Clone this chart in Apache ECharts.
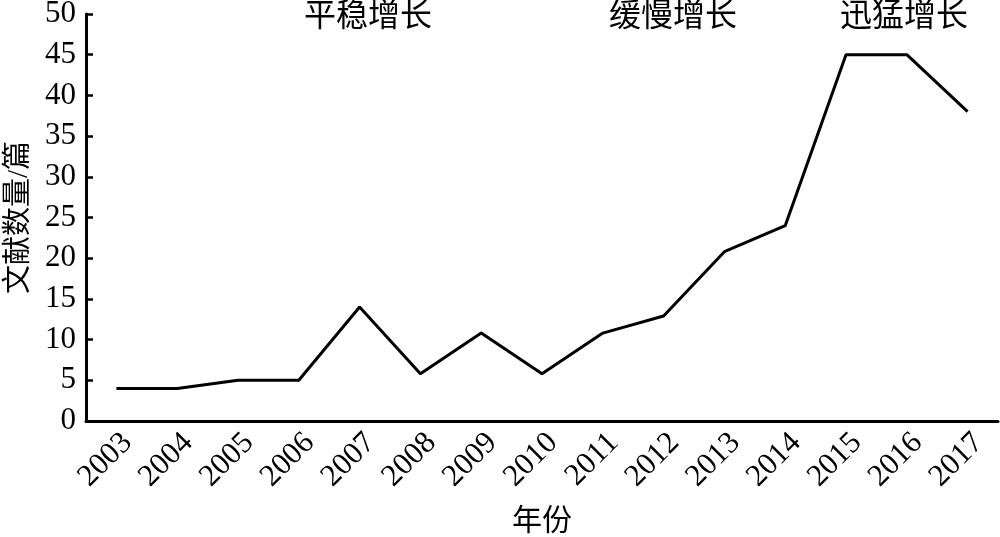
<!DOCTYPE html>
<html><head><meta charset="utf-8">
<script src="https://cdn.jsdelivr.net/npm/echarts@6/dist/echarts.min.js"></script>
<style>html,body{margin:0;padding:0;background:#fff}#c{width:1000px;height:537px}</style>
</head><body><div id="c"></div>
<script>
var years = ['2003','2004','2005','2006','2007','2008','2009','2010','2011','2012','2013','2014','2015','2016','2017'];
var counts = [4, 4, 5, 5, 14, 5.8, 10.8, 5.8, 10.8, 12.9, 20.8, 24, 45, 45, 38];
var yTicks = [0, 5, 10, 15, 20, 25, 30, 35, 40, 45, 50];
var phaseLabels = ['平稳增长', '缓慢增长', '迅猛增长'];
var phaseCenters = [368, 673, 904];

var serif = '"Liberation Serif","Times New Roman",serif';
var cjk = '"Liberation Serif","Noto Sans CJK SC",serif';
var chart = echarts.init(document.getElementById('c'));
chart.setOption({
  animation: false,
  backgroundColor: '#fff',
  grid: { left: 86, right: 2, top: 14, bottom: 116, containLabel: false, outerBoundsMode: 'none' },
  xAxis: {
    type: 'category',
    data: years,
    boundaryGap: true,
    name: '年份',
    nameLocation: 'middle',
    nameGap: 86,
    nameTextStyle: { color: '#000', fontSize: 30, fontFamily: cjk },
    axisLine: { lineStyle: { color: '#000', width: 3 } },
    axisTick: { inside: true, length: 7, alignWithLabel: false, lineStyle: { color: '#000', width: 2.5 } },
    axisLabel: { color: '#000', fontSize: 31, fontFamily: serif, rotate: 45, margin: 6, interval: 0, verticalAlign: 'top' },
    splitLine: { show: false }
  },
  yAxis: {
    type: 'value',
    min: yTicks[0],
    max: yTicks[yTicks.length - 1],
    interval: 5,
    name: '文献数量/篇',
    nameLocation: 'middle',
    nameGap: 52,
    nameTextStyle: { color: '#000', fontSize: 29, fontFamily: cjk },
    axisLine: { show: true, lineStyle: { color: '#000', width: 3 } },
    axisTick: { show: true, inside: true, length: 7, lineStyle: { color: '#000', width: 2.5 } },
    axisLabel: { color: '#000', fontSize: 31, fontFamily: serif, margin: 10 },
    splitLine: { show: false }
  },
  series: [{
    type: 'line',
    data: counts,
    symbol: 'none',
    lineStyle: { color: '#000', width: 3 },
    itemStyle: { color: '#000' }
  }],
  graphic: phaseLabels.map(function (t, i) {
    return {
      type: 'text',
      x: phaseCenters[i],
      y: 18,
      style: { text: t, fill: '#000', font: '32px ' + cjk, textAlign: 'center', textVerticalAlign: 'middle' }
    };
  })
});
</script></body></html>
